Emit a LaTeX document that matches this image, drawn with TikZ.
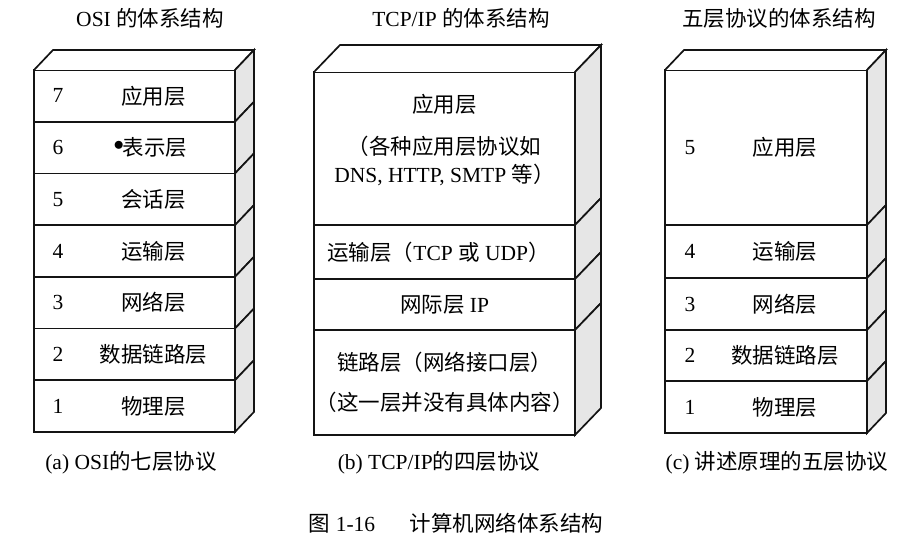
\documentclass[tikz,border=0pt]{standalone}
\usepackage{fontspec}
\setmainfont{Liberation Serif}
\newfontfamily\cjk{Noto Sans CJK SC}
\usepackage{tikz}
\usepackage{xcolor}
\usetikzlibrary{positioning}
\definecolor{SideGray}{RGB}{230,230,230}
\definecolor{LineBlack}{RGB}{20,20,20}
\newcommand{\zh}[1]{{\cjk #1}}

\begin{document}
\begin{tikzpicture}[
    x=1pt, y=-1pt,
    layer/.style={draw=LineBlack, line width=1.7pt, outer sep=0pt, inner sep=0pt},
    osilayer/.style={layer, minimum width=201pt, minimum height=51.7pt},
    tcplayer/.style={layer, minimum width=261pt},
    fivelayer/.style={layer, minimum width=202pt},
    side/.style={draw=LineBlack, fill=SideGray, line width=1.7pt},
    topface/.style={draw=LineBlack, fill=white, line width=1.7pt},
    txt/.style={font=\fontsize{21.5}{28}\selectfont, inner sep=0pt},
    num/.style={txt}
]
\useasboundingbox (0,0) rectangle (912,545);

% Titles
\node[txt] (ta) at (150,18) {OSI \zh{的体系结构}};
\node[txt] (tb) at (461,18) {TCP/IP \zh{的体系结构}};
\node[txt] (tc) at (779,18) {\zh{五层协议的体系结构}};

% (a) OSI
\node[osilayer, anchor=north west] (a7) at (34,70) {};
\node[osilayer, below=0pt of a7] (a6) {};
\node[osilayer, below=0pt of a6] (a5) {};
\node[osilayer, below=0pt of a5] (a4) {};
\node[osilayer, below=0pt of a4] (a3) {};
\node[osilayer, below=0pt of a3] (a2) {};
\node[osilayer, below=0pt of a2] (a1) {};
\draw[topface] (a7.north west) -- ++(19,-20) -- ([shift={(19,-20)}]a7.north east) -- (a7.north east);
\foreach \l in {a7,a6,a5,a4,a3,a2,a1}
    \filldraw[side] (\l.north east) -- ++(19,-20) -- ([shift={(19,-20)}]\l.south east) -- (\l.south east) -- cycle;

\node[num] (a7n) at ([xshift=24pt]a7.west) {7};
\node[num] (a6n) at ([xshift=24pt]a6.west) {6};
\node[num] (a5n) at ([xshift=24pt]a5.west) {5};
\node[num] (a4n) at ([xshift=24pt]a4.west) {4};
\node[num] (a3n) at ([xshift=24pt]a3.west) {3};
\node[num] (a2n) at ([xshift=24pt]a2.west) {2};
\node[num] (a1n) at ([xshift=24pt]a1.west) {1};
\node[txt] (a7t) at ([xshift=19pt]a7.center) {\zh{应用层}};
\node[txt] (a6t) at ([xshift=16pt]a6.center) {\raisebox{5pt}{$\bullet$}\hspace{-1pt}\zh{表示层}};
\node[txt] (a5t) at ([xshift=19pt]a5.center) {\zh{会话层}};
\node[txt] (a4t) at ([xshift=19pt]a4.center) {\zh{运输层}};
\node[txt] (a3t) at ([xshift=19pt]a3.center) {\zh{网络层}};
\node[txt] (a2t) at ([xshift=19pt]a2.center) {\zh{数据链路层}};
\node[txt] (a1t) at ([xshift=19pt]a1.center) {\zh{物理层}};

% (b) TCP/IP
\node[tcplayer, minimum height=153pt, anchor=north west] (b4) at (314,72) {};
\node[tcplayer, minimum height=54pt, below=0pt of b4] (b3) {};
\node[tcplayer, minimum height=51pt, below=0pt of b3] (b2) {};
\node[tcplayer, minimum height=105pt, below=0pt of b2] (b1) {};
\draw[topface] (b4.north west) -- ++(26,-27) -- ([shift={(26,-27)}]b4.north east) -- (b4.north east);
\foreach \l in {b4,b3,b2,b1}
    \filldraw[side] (\l.north east) -- ++(26,-27) -- ([shift={(26,-27)}]\l.south east) -- (\l.south east) -- cycle;

\node[txt, align=center] (b4t) at ([yshift=8pt]b4.center)
    {\zh{应用层}\\[14pt]\zh{（各种应用层协议如}\\DNS, HTTP, SMTP \zh{等）}};
\node[txt] (b3t) at ([xshift=-6pt]b3.center) {\zh{运输层（}TCP \zh{或} UDP\zh{）}};
\node[txt] (b2t) at (b2.center) {\zh{网际层} IP};
\node[txt, align=center] (b1t) at (b1.center)
    {\zh{链路层（网络接口层）}\\[12pt]\zh{（这一层并没有具体内容）}};

% (c) five layers
\node[fivelayer, minimum height=155pt, anchor=north west] (c5) at (665,70) {};
\node[fivelayer, minimum height=53pt, below=0pt of c5] (c4) {};
\node[fivelayer, minimum height=52pt, below=0pt of c4] (c3) {};
\node[fivelayer, minimum height=51pt, below=0pt of c3] (c2) {};
\node[fivelayer, minimum height=52pt, below=0pt of c2] (c1) {};
\draw[topface] (c5.north west) -- ++(19,-20) -- ([shift={(19,-20)}]c5.north east) -- (c5.north east);
\foreach \l in {c5,c4,c3,c2,c1}
    \filldraw[side] (\l.north east) -- ++(19,-20) -- ([shift={(19,-20)}]\l.south east) -- (\l.south east) -- cycle;

\node[num] (c5n) at ([xshift=25pt]c5.west) {5};
\node[num] (c4n) at ([xshift=25pt]c4.west) {4};
\node[num] (c3n) at ([xshift=25pt]c3.west) {3};
\node[num] (c2n) at ([xshift=25pt]c2.west) {2};
\node[num] (c1n) at ([xshift=25pt]c1.west) {1};
\node[txt] (c5t) at ([xshift=19pt]c5.center) {\zh{应用层}};
\node[txt] (c4t) at ([xshift=19pt]c4.center) {\zh{运输层}};
\node[txt] (c3t) at ([xshift=19pt]c3.center) {\zh{网络层}};
\node[txt] (c2t) at ([xshift=19pt]c2.center) {\zh{数据链路层}};
\node[txt] (c1t) at ([xshift=19pt]c1.center) {\zh{物理层}};

% Captions
\node[txt] (ca) at (131,463) {(a) OSI\zh{的七层协议}};
\node[txt] (cb) at (439,463) {(b) TCP/IP\zh{的四层协议}};
\node[txt] (cc) at (777,463) {(c) \zh{讲述原理的五层协议}};
\node[txt] (fig) at (456,523) {\zh{图} 1-16\hspace{1.6em}\zh{计算机网络体系结构}};

\end{tikzpicture}
\end{document}
